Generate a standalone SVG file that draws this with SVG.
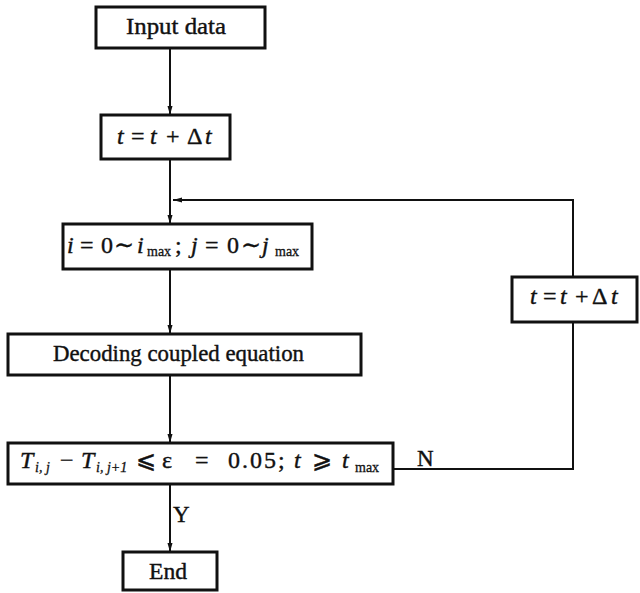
<svg xmlns="http://www.w3.org/2000/svg" width="640" height="593" viewBox="0 0 640 593">
<defs>
<marker id="ah" markerUnits="userSpaceOnUse" markerWidth="9" markerHeight="6" refX="9" refY="3" orient="auto">
<path d="M0,0.5 L9,3 L0,5.5 z" fill="#111"/>
</marker>
<style>
.box{fill:#fff;stroke:#111;stroke-width:3}
.ln{fill:none;stroke:#111;stroke-width:2}
.t{font-family:"Liberation Serif","Times New Roman",serif;font-size:23px;fill:#111;stroke:#111;stroke-width:0.4}
.m{font-family:"Liberation Serif","DejaVu Serif",serif;font-size:24px;fill:#111;stroke:#111;stroke-width:0.4}
.i{font-style:italic}
.s{font-size:14px;stroke-width:0.3}
</style>
</defs>
<rect width="640" height="593" fill="#fff"/>
<g id="connectors">
<line class="ln" x1="170" y1="48" x2="170" y2="115" marker-end="url(#ah)"/>
<line class="ln" x1="170" y1="159" x2="170" y2="224" marker-end="url(#ah)"/>
<line class="ln" x1="170" y1="269" x2="170" y2="334" marker-end="url(#ah)"/>
<line class="ln" x1="170" y1="375" x2="170" y2="443" marker-end="url(#ah)"/>
<line class="ln" x1="170" y1="484" x2="170" y2="552" marker-end="url(#ah)"/>
<polyline class="ln" points="393,469 573,469 573,322"/>
<polyline class="ln" points="573,277 573,200 173,200" marker-end="url(#ah)"/>
<text class="t" x="173" y="522">Y</text>
<text class="t" x="417" y="466">N</text>
</g>
<g id="input">
<rect class="box" x="96" y="7" width="169" height="41"/>
<text class="t" x="126" y="34" textLength="100" lengthAdjust="spacingAndGlyphs">Input data</text>
</g>
<g id="step1">
<rect class="box" x="101" y="115" width="129" height="44"/>
<text class="m" y="144"><tspan class="i" x="117">t</tspan><tspan x="131">=</tspan><tspan class="i" x="150">t</tspan><tspan x="166">+</tspan><tspan x="187">Δ</tspan><tspan class="i" x="205">t</tspan></text>
</g>
<g id="loop">
<rect class="box" x="63" y="224" width="249" height="45"/>
<text class="m" y="253"><tspan class="i" x="67">i</tspan><tspan x="80">=</tspan><tspan x="101">0</tspan><tspan x="114">∼</tspan><tspan class="i" x="137">i</tspan><tspan class="s" x="147" y="256">max</tspan><tspan x="175" y="253">;</tspan><tspan class="i" x="191">j</tspan><tspan x="205">=</tspan><tspan x="227">0</tspan><tspan x="241">∼</tspan><tspan class="i" x="262">j</tspan><tspan class="s" x="275" y="256">max</tspan></text>
</g>
<g id="decode">
<rect class="box" x="8" y="334" width="353" height="41"/>
<text class="t" x="53" y="361" textLength="251" lengthAdjust="spacingAndGlyphs">Decoding coupled equation</text>
</g>
<g id="check">
<rect class="box" x="8" y="443" width="385" height="41"/>
<text class="m" y="468"><tspan class="i" x="20">T</tspan><tspan class="i s" x="35" y="472">i, j</tspan><tspan x="60" y="468">−</tspan><tspan class="i" x="81">T</tspan><tspan class="i s" x="96" y="472">i, j+1</tspan><tspan x="136" y="468">⩽</tspan><tspan x="162">ε</tspan><tspan x="195">=</tspan><tspan x="228" letter-spacing="2">0.05;</tspan><tspan class="i" x="294">t</tspan><tspan x="312">⩾</tspan><tspan class="i" x="342">t</tspan><tspan class="s" x="355" y="472">max</tspan></text>
</g>
<g id="step2">
<rect class="box" x="512" y="277" width="125" height="45"/>
<text class="m" y="304"><tspan class="i" x="530">t</tspan><tspan x="543">=</tspan><tspan class="i" x="560">t</tspan><tspan x="575">+</tspan><tspan x="592">Δ</tspan><tspan class="i" x="611">t</tspan></text>
</g>
<g id="end">
<rect class="box" x="123" y="552" width="94" height="38"/>
<text class="t" x="149" y="579" textLength="38" lengthAdjust="spacingAndGlyphs">End</text>
</g>
</svg>
